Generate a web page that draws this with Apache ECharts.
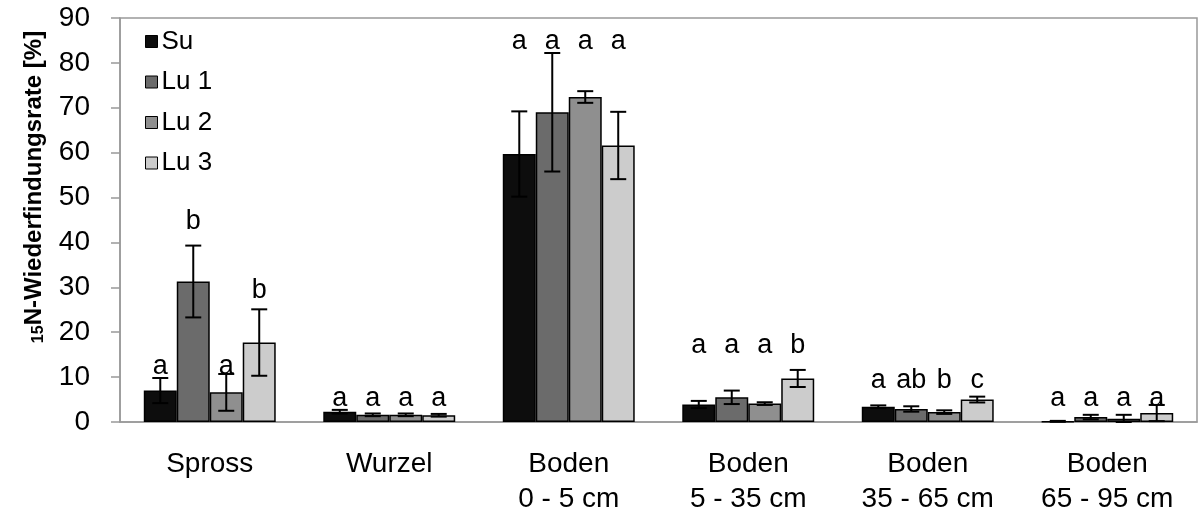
<!DOCTYPE html>
<html>
<head>
<meta charset="utf-8">
<script src="https://cdn.jsdelivr.net/npm/echarts@6/dist/echarts.min.js"></script>
<style>
  html, body { margin: 0; padding: 0; background: #fff; }
  #chart { width: 1198px; height: 517px; }
</style>
</head>
<body>
<div id="chart"></div>
<script>
// 15N recovery per compartment and treatment
const categories = ['Spross', 'Wurzel', 'Boden\n0 - 5 cm', 'Boden\n5 - 35 cm', 'Boden\n35 - 65 cm', 'Boden\n65 - 95 cm'];
const seriesNames = ['Su', 'Lu 1', 'Lu 2', 'Lu 3'];

const valSu  = [7.0, 2.3, 59.7, 3.9, 3.4, 0.15];
const valLu1 = [31.3, 1.6, 69.0, 5.5, 2.9, 1.1];
const valLu2 = [6.6, 1.6, 72.4, 4.1, 2.2, 0.7];
const valLu3 = [17.7, 1.5, 61.6, 9.7, 5.0, 2.0];

// standard deviations
const errSu  = [2.8, 0.4, 9.5, 0.8, 0.3, 0.1];
const errLu1 = [8.0, 0.3, 13.2, 1.5, 0.6, 0.5];
const errLu2 = [4.1, 0.3, 1.3, 0.3, 0.4, 0.9];
const errLu3 = [7.4, 0.3, 7.5, 1.9, 0.65, 1.8];

// significance letters
const letSu  = ['a', 'a', 'a', 'a', 'a', 'a'];
const letLu1 = ['b', 'a', 'a', 'a', 'ab', 'a'];
const letLu2 = ['a', 'a', 'a', 'a', 'b', 'a'];
const letLu3 = ['b', 'a', 'a', 'b', 'c', 'a'];

const yTicks = { min: 0, max: 90, interval: 10 };

// vertical anchor (axis units) of the letter rows
const letterRow = {
  Su:  [12.4, 5.3, 84.8, 17.1, 9.3, 5.3],
  Lu1: [44.7, 5.3, 84.8, 17.1, 9.3, 5.3],
  Lu2: [12.4, 5.3, 84.8, 17.1, 9.3, 5.3],
  Lu3: [29.3, 5.3, 84.8, 17.1, 9.3, 5.3]
};

const values = [valSu, valLu1, valLu2, valLu3];
const errors = [errSu, errLu1, errLu2, errLu3];
const letters = [letSu, letLu1, letLu2, letLu3];
const rows = [letterRow.Su, letterRow.Lu1, letterRow.Lu2, letterRow.Lu3];
const colors = ['#0d0d0d', '#6b6b6b', '#8f8f8f', '#cccccc'];

const CAT_GAP = 0.265;
const FONT = '"Liberation Sans", Arial, sans-serif';

function barCenter(api, cat, s) {
  const cw = api.size([1, 0])[0];
  const bw = cw * (1 - CAT_GAP) / 4;
  return api.coord([cat, 0])[0] + (s - 1.5) * bw;
}

const barSeries = seriesNames.map((name, s) => ({
  name: name,
  type: 'bar',
  data: values[s],
  barGap: '0%',
  barCategoryGap: (CAT_GAP * 100) + '%',
  itemStyle: { color: colors[s], borderColor: '#000', borderWidth: 1.5 },
  z: 2
}));

const errData = [];
const letData = [];
for (let s = 0; s < 4; s++) {
  for (let c = 0; c < categories.length; c++) {
    errData.push([c, s, values[s][c] - errors[s][c], values[s][c] + errors[s][c]]);
    letData.push([c, s, rows[s][c], letters[s][c]]);
  }
}

const errSeries = {
  type: 'custom',
  data: errData,
  z: 5,
  silent: true,
  renderItem: function (params, api) {
    const c = api.value(0), s = api.value(1);
    const x = barCenter(api, c, s);
    const yLo = api.coord([c, Math.max(0, api.value(2))])[1];
    const yHi = api.coord([c, api.value(3)])[1];
    const hw = 8;
    const st = { stroke: '#000', lineWidth: 2 };
    return {
      type: 'group',
      children: [
        { type: 'line', shape: { x1: x, y1: yLo, x2: x, y2: yHi }, style: st },
        { type: 'line', shape: { x1: x - hw, y1: yHi, x2: x + hw, y2: yHi }, style: st },
        { type: 'line', shape: { x1: x - hw, y1: yLo, x2: x + hw, y2: yLo }, style: st }
      ]
    };
  }
};

const letSeries = {
  type: 'custom',
  data: letData,
  z: 6,
  silent: true,
  renderItem: function (params, api) {
    const c = api.value(0), s = api.value(1);
    const x = barCenter(api, c, s);
    const y = api.coord([c, api.value(2)])[1];
    return {
      type: 'text',
      style: {
        x: x, y: y,
        text: letData[params.dataIndex][3],
        fontFamily: FONT, fontSize: 27, fill: '#000',
        align: 'center', verticalAlign: 'middle'
      }
    };
  }
};

const chart = echarts.init(document.getElementById('chart'), null, { renderer: 'canvas' });
chart.setOption({
  animation: false,
  backgroundColor: '#fff',
  grid: {
    left: 120, right: 1, top: 18, bottom: 93,
    show: true, borderColor: '#999', borderWidth: 1.5, backgroundColor: 'transparent'
  },
  legend: {
    data: seriesNames,
    orient: 'vertical',
    left: 145, top: 28,
    padding: 0,
    itemWidth: 12, itemHeight: 12, itemGap: 13.5,
    icon: 'rect',
    itemStyle: { borderColor: '#000', borderWidth: 1 },
    textStyle: { fontFamily: FONT, fontSize: 26, lineHeight: 27, color: '#000', padding: [0, 0, 0, -1] }
  },
  xAxis: {
    type: 'category',
    data: categories,
    axisLine: { lineStyle: { color: '#999', width: 1.5 } },
    axisTick: { show: false },
    axisLabel: { fontFamily: FONT, fontSize: 28, color: '#000', margin: 25, lineHeight: 35, interval: 0 }
  },
  yAxis: {
    type: 'value',
    min: yTicks.min, max: yTicks.max, interval: yTicks.interval,
    axisLine: { show: true, lineStyle: { color: '#999', width: 1.5 } },
    axisTick: { show: true, length: 9, lineStyle: { color: '#999', width: 1.5 } },
    splitLine: { show: false },
    axisLabel: { fontFamily: FONT, fontSize: 28, color: '#000', margin: 30 }
  },
  graphic: [{
    type: 'text',
    x: 34, y: 187,
    rotation: Math.PI / 2,
    style: {
      x: 0, y: 0,
      align: 'center', verticalAlign: 'middle',
      text: '{sub|15}{b|N-Wiederfindungsrate [%]}',
      rich: {
        sub: { fontFamily: FONT, fontSize: 16, fontWeight: 'bold', fill: '#000', verticalAlign: 'bottom', padding: [10, 0, 0, 0] },
        b: { fontFamily: FONT, fontSize: 24, fontWeight: 'bold', fill: '#000' }
      }
    }
  }],
  series: barSeries.concat([errSeries, letSeries])
});
</script>
</body>
</html>
